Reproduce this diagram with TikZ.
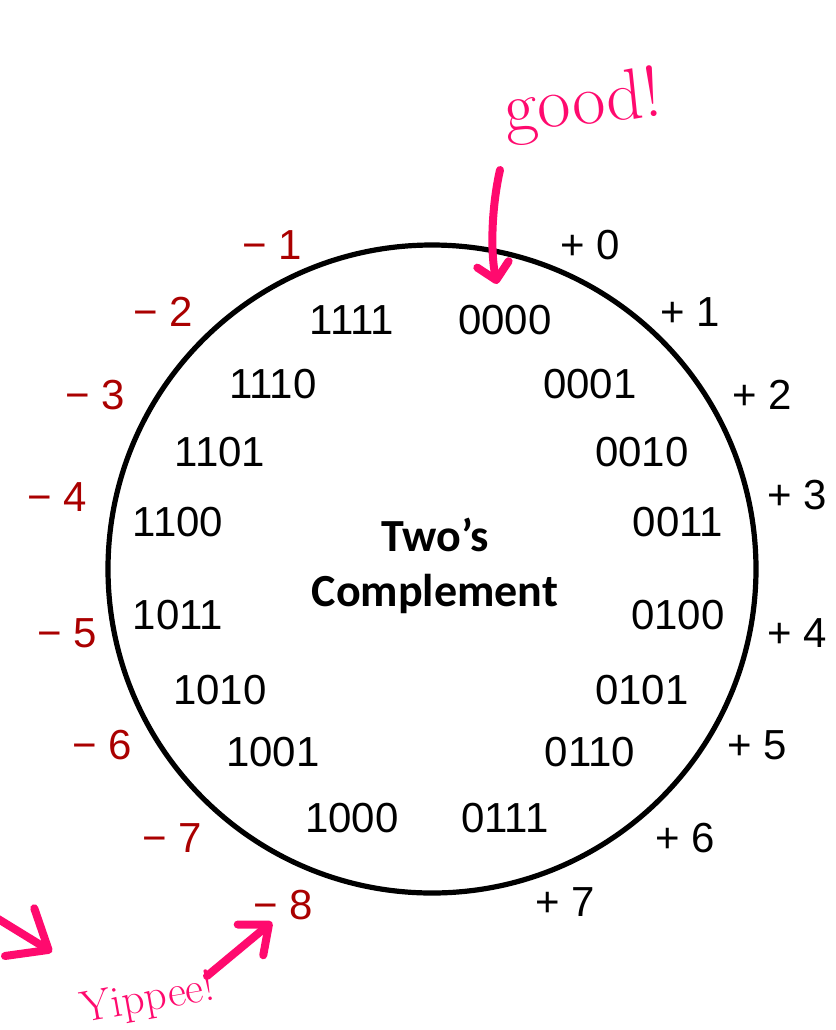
\documentclass[tikz,border=0pt]{standalone}
\usepackage{fontspec}
\newfontfamily\numfont{Liberation Sans}
\newfontfamily\headfont{Carlito}
\usetikzlibrary{arrows.meta}
\definecolor{negred}{RGB}{170,0,0}
\definecolor{marker}{RGB}{255,10,110}
\tikzset{
    bits/.style={font=\numfont\fontsize{21}{25}\selectfont, inner sep=1pt},
    posnum/.style={bits},
    negnum/.style={bits, text=negred},
    title/.style={font=\headfont\bfseries\fontsize{23}{27.5}\selectfont, align=center},
    scribble/.style={text=marker, inner sep=0pt, font=\fontsize{36}{40}\selectfont},
    marker arrow/.style={
        draw=marker, line width=4pt, line cap=round, line join=round,
        -{Straight Barb[length=8pt, width=16pt, round]}
    }
}
\begin{document}
\begin{tikzpicture}[x=0.5pt,y=-0.5pt]
\useasboundingbox (0,0) rectangle (836,1030);
\coordinate (ctr) at (432,569);
\draw[line width=2.6pt] (ctr) circle[radius=162pt];
\node[title] (title) at (435,566) {Two’s\\Complement};

% bit patterns inside the ring
\foreach \x/\y/\b in {505/320/0000, 590/384/0001, 642/452/0010, 678/522/0011,
    678/615/0100, 642/690/0101, 590/752/0110, 505/818/0111,
    352/818/1000, 273/752/1001, 220/690/1010, 178/615/1011,
    178/522/1100, 220/452/1101, 273/384/1110, 352/320/1111}
    \node[bits] (b\b) at (\x,\y) {\b};

% values outside the ring
\foreach \x/\y/\v in {590/245/0, 690/312/1, 762/395/2, 797/495/3,
    797/633/4, 757/745/5, 685/838/6, 565/902/7}
    \node[posnum] (p\v) at (\x,\y) {+ \v};
\foreach \x/\y/\v in {272/245/1, 163/312/2, 95/395/3, 57/497/4,
    67/633/5, 102/745/6, 172/838/7, 283/905/8}
    \node[negnum] (m\v) at (\x,\y) {− \v};

% scribbles
\node[scribble, rotate=6] (good) at (583,106) {good!};
\node[scribble, font=\fontsize{22}{26}\selectfont, rotate=10] (yippee) at (148,1000) {Yippee!};
\coordinate (goodtail) at (500,170);
\coordinate (goodtip) at (497,284);
\draw[marker arrow] (goodtail) .. controls (492,205) and (490,250) .. (goodtip);
\coordinate (yiptail) at (207,976);
\coordinate (yiptip) at (272,922);
\draw[marker arrow, -{Straight Barb[length=12pt, width=20pt, round]}] (yiptail) -- (yiptip);
\coordinate (edgetail) at (-5,917);
\coordinate (edgetip) at (52,952);
\draw[marker arrow, -{Straight Barb[length=17pt, width=28pt, round]}] (edgetail) -- (edgetip);
\end{tikzpicture}
\end{document}
